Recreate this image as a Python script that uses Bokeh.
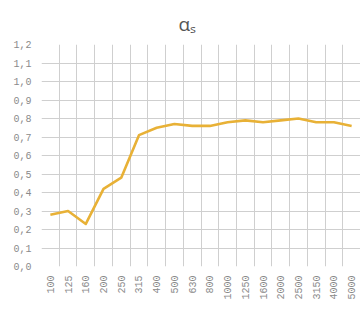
import numpy as np
from bokeh.plotting import figure
from bokeh.models import (FixedTicker, CustomJSTickFormatter, Legend, LegendItem, Range1d)
from bokeh.embed import file_html
from bokeh.resources import INLINE

frequencies = ["100", "125", "160", "200", "250", "315", "400", "500", "630", "800",
               "1000", "1250", "1600", "2000", "2500", "3150", "4000", "5000"]
alpha_s = [0.28, 0.30, 0.23, 0.42, 0.48, 0.71, 0.75, 0.77, 0.76, 0.76,
           0.78, 0.79, 0.78, 0.79, 0.80, 0.78, 0.78, 0.76]
y_ticks = [0.0, 0.1, 0.2, 0.3, 0.4, 0.5, 0.6, 0.7, 0.8, 0.9, 1.0, 1.1, 1.2]
series_name = "sound absorption coefficient"
title_text = "αₛ"

n = len(frequencies)
xs = [i + 0.5 for i in range(n)]

p = figure(frame_width=319, frame_height=222, output_backend="svg", toolbar_location=None,
           x_range=Range1d(0, n), y_range=Range1d(0, 1.2),
           min_border_left=41, min_border_right=0, min_border_top=44,
           min_border_bottom=59, title=title_text)
p.outline_line_color = None
p.background_fill_color = "white"
p.border_fill_color = "white"

p.title.text_font = "Open Sans"
p.title.text_font_size = "19px"
p.title.text_font_style = "normal"
p.title.text_color = "#555555"
p.title.align = "left"
p.title.vertical_align = "bottom"
p.title.offset = 137
p.title.standoff = 16

line = p.line(xs, alpha_s, line_color="#E8B136", line_width=2.6, line_join="round")

for ax in (p.xaxis, p.yaxis):
    ax.axis_line_color = None
    ax.major_tick_line_color = None
    ax.minor_tick_line_color = None
    ax.major_tick_out = 0
    ax.major_tick_in = 0
    ax.minor_tick_out = 0
    ax.minor_tick_in = 0
    ax.axis_label_standoff = 0
    ax.major_label_text_font = "Liberation Mono"
    ax.major_label_text_font_size = "10px"
    ax.major_label_text_color = "#8a8a8a"

# x axis
p.xaxis.ticker = FixedTicker(ticks=xs)
p.xaxis.major_label_overrides = {x: f for x, f in zip(xs, frequencies)}
p.xaxis.major_label_orientation = np.pi / 2
p.xaxis.major_label_standoff = 9

# y axis
p.yaxis.ticker = FixedTicker(ticks=y_ticks)
p.yaxis.formatter = CustomJSTickFormatter(code="return tick.toFixed(1).replace('.', ',');")
p.yaxis.major_label_standoff = 10

# grids at category boundaries
p.xgrid.ticker = FixedTicker(ticks=list(range(n + 1)))
p.ygrid.ticker = FixedTicker(ticks=y_ticks)
p.xgrid.grid_line_color = "#cfcfcf"
p.ygrid.grid_line_color = "#cfcfcf"
p.xgrid.grid_line_width = 1
p.ygrid.grid_line_width = 1

legend = Legend(items=[LegendItem(label=series_name, renderers=[line])],
                orientation="horizontal", location=(61, -59),
                label_text_font="Open Sans", label_text_font_size="11px",
                label_text_color="#555555", glyph_width=28, glyph_height=10,
                label_standoff=1, label_height=12,
                border_line_color=None, background_fill_alpha=0,
                margin=0, padding=0)
p.add_layout(legend, "center")

open("out.html", "w").write(file_html(p, INLINE))
